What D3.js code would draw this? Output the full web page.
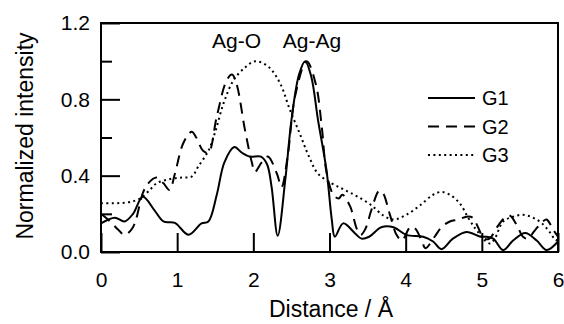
<!DOCTYPE html>
<html>
<head>
<meta charset="utf-8">
<script src="https://cdn.jsdelivr.net/npm/d3@7"></script>
<style>
  body { margin: 0; background: #fff; }
  text { font-family: "Liberation Sans", Arial, sans-serif; fill: #000; }
</style>
</head>
<body>
<script>
// distance (Å), normalized intensity
const g1 = [[0,0.15],[0.18,0.18],[0.31,0.16],[0.42,0.2],[0.55,0.29],[0.7,0.22],[0.82,0.16],[0.97,0.153],
  [1.15,0.09],[1.32,0.15],[1.41,0.16],[1.52,0.3],[1.62,0.47],[1.75,0.55],[1.85,0.52],[1.95,0.5],[2.1,0.5],
  [2.18,0.46],[2.24,0.34],[2.32,0.085],[2.42,0.38],[2.5,0.69],[2.6,0.93],[2.68,1.0],[2.76,0.92],[2.85,0.69],
  [2.96,0.43],[3.03,0.17],[3.07,0.08],[3.18,0.15],[3.33,0.1],[3.42,0.07],[3.52,0.08],[3.68,0.13],[3.84,0.13],
  [4.01,0.09],[4.23,0.08],[4.36,0.055],[4.47,0.015],[4.62,0.07],[4.8,0.105],[4.98,0.08],[5.05,0.08],[5.15,0.07],
  [5.28,0.01],[5.41,0.06],[5.57,0.1],[5.72,0.06],[5.85,0.01],[6.0,0.055]];

const g2 = [[0,0.2],[0.12,0.16],[0.23,0.115],[0.31,0.09],[0.42,0.13],[0.55,0.31],[0.62,0.36],[0.73,0.39],
  [0.82,0.36],[0.9,0.325],[0.97,0.41],[1.08,0.57],[1.19,0.63],[1.25,0.6],[1.34,0.53],[1.41,0.52],[1.52,0.71],
  [1.65,0.9],[1.72,0.93],[1.78,0.88],[1.89,0.64],[1.98,0.47],[2.02,0.42],[2.11,0.47],[2.19,0.5],[2.31,0.41],
  [2.37,0.34],[2.45,0.5],[2.55,0.82],[2.7,1.0],[2.82,0.88],[2.9,0.65],[2.96,0.42],[3.05,0.3],[3.12,0.28],
  [3.17,0.3],[3.27,0.24],[3.36,0.12],[3.41,0.09],[3.47,0.12],[3.55,0.22],[3.65,0.32],[3.7,0.31],[3.79,0.2],
  [3.88,0.09],[3.95,0.06],[4.06,0.13],[4.12,0.125],[4.21,0.06],[4.26,0.02],[4.38,0.08],[4.47,0.13],[4.58,0.16],
  [4.69,0.17],[4.8,0.185],[4.88,0.18],[4.95,0.13],[5.03,0.07],[5.1,0.07],[5.2,0.13],[5.3,0.18],[5.37,0.19],
  [5.46,0.14],[5.54,0.08],[5.6,0.07],[5.7,0.115],[5.8,0.16],[5.85,0.17],[5.94,0.115],[6.0,0.08]];

const g3 = [[0,0.255],[0.35,0.26],[0.51,0.28],[0.64,0.325],[0.73,0.36],[0.88,0.38],[1.06,0.39],[1.19,0.395],
  [1.28,0.45],[1.41,0.53],[1.5,0.63],[1.61,0.78],[1.74,0.9],[1.9,0.97],[2.03,1.0],[2.2,0.97],[2.35,0.885],
  [2.48,0.745],[2.61,0.62],[2.72,0.51],[2.85,0.41],[3.03,0.36],[3.2,0.325],[3.37,0.29],[3.55,0.245],[3.71,0.19],
  [3.84,0.17],[4.01,0.195],[4.19,0.245],[4.36,0.3],[4.47,0.315],[4.58,0.3],[4.71,0.255],[4.82,0.18],[4.91,0.125],
  [4.98,0.09],[5.04,0.06],[5.11,0.045],[5.17,0.07],[5.28,0.16],[5.41,0.185],[5.54,0.195],[5.67,0.18],
  [5.79,0.15],[5.9,0.1],[5.96,0.065],[6.0,0.06]];

const seriesNames = ["G1", "G2", "G3"];
const peakLabels = [["Ag-O", 1.78], ["Ag-Ag", 2.77]];
const xTicks = [0, 1, 2, 3, 4, 5, 6];
const yTicks = [0, 0.4, 0.8, 1.2];
const yMinor = [0.2, 0.6, 1.0];

var margin = { top: 23, right: 6, bottom: 72, left: 101 },
  width = 564 - margin.left - margin.right,
  height = 324 - margin.top - margin.bottom;

const x = d3.scaleLinear().domain([0, 6]).range([0, width]);
const y = d3.scaleLinear().domain([0, 1.2]).range([height, 0]);

var svg = d3.select("body").append("svg")
  .attr("width", 564)
  .attr("height", 324);

var g = svg.append("g")
  .attr("transform", "translate(" + margin.left + "," + margin.top + ")");

// ticks point inward
g.append("g")
  .call(d3.axisLeft(y).tickValues(yTicks).tickFormat(d3.format(".1f"))
    .tickSizeInner(-19).tickSizeOuter(0).tickPadding(11));
g.append("g")
  .call(d3.axisLeft(y).tickValues(yMinor).tickFormat("").tickSizeInner(-11).tickSizeOuter(0));
g.append("g")
  .attr("transform", "translate(0," + height + ")")
  .call(d3.axisBottom(x).tickValues(xTicks).tickFormat(d3.format("d"))
    .tickSizeInner(-19).tickSizeOuter(0).tickPadding(20));

g.selectAll(".domain").remove();
g.selectAll(".tick line").attr("stroke", "#000").attr("stroke-width", 2);
g.selectAll(".tick text").style("font-size", "21px");

g.append("rect")
  .attr("width", width)
  .attr("height", height)
  .attr("fill", "none")
  .attr("stroke", "#000")
  .attr("stroke-width", 2);

const dashes = [null, "11,7", "2,3.4"];

var line = d3.line()
  .x(d => x(d[0]))
  .y(d => y(d[1]))
  .curve(d3.curveCatmullRom.alpha(0.5));

[g1, g2, g3].forEach(function (s, i) {
  g.append("path")
    .datum(s)
    .attr("fill", "none")
    .attr("stroke", "#000")
    .attr("stroke-width", 2)
    .attr("stroke-dasharray", dashes[i])
    .attr("d", line);
});

// legend
var leg = g.selectAll(".leg")
  .data(seriesNames)
  .enter().append("g")
  .attr("class", "leg")
  .attr("transform", (d, i) => "translate(" + (428 - margin.left) + "," + (98 + i * 28.5 - margin.top) + ")");
leg.append("line")
  .attr("x1", 0).attr("x2", 47)
  .attr("stroke", "#000")
  .attr("stroke-width", 2)
  .attr("stroke-dasharray", (d, i) => dashes[i]);
leg.append("text")
  .attr("x", 54)
  .attr("dy", "0.35em")
  .style("font-size", "20px")
  .text(d => d);

g.selectAll(".peak")
  .data(peakLabels)
  .enter().append("text")
  .attr("class", "peak")
  .attr("x", d => x(d[1]))
  .attr("y", 48 - margin.top)
  .attr("text-anchor", "middle")
  .style("font-size", "21px")
  .text(d => d[0]);

svg.append("text")
  .attr("transform", "translate(33,136) rotate(-90)")
  .attr("text-anchor", "middle")
  .style("font-size", "23px")
  .text("Normalized intensity");

svg.append("text")
  .attr("x", 331)
  .attr("y", 317)
  .attr("text-anchor", "middle")
  .style("font-size", "23px")
  .text("Distance / Å");
</script>
</body>
</html>
